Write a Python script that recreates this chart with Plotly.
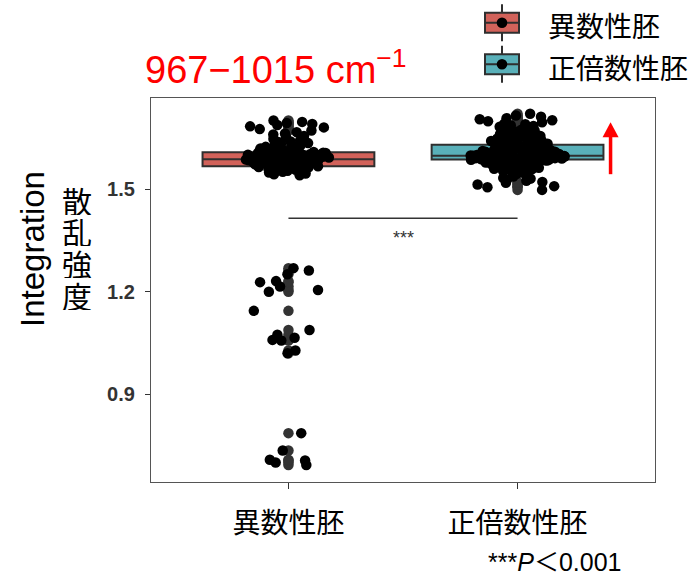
import plotly.graph_objects as go

# Canvas and plot-area geometry (pixels)
W, H = 695, 583
L, R, T, B = 151, 40, 98, 101
PW, PH = W - L - R, H - T - B


def px(x):
    return (x - L) / PW


def py(y):
    return (H - B - y) / PH


LATIN = "Liberation Sans, Arial, sans-serif"
CJK = "Noto Sans CJK JP, Noto Sans CJK SC, sans-serif"

categories = ["異数性胚", "正倍数性胚"]
positions = [1, 2]
box_fill = ["#D2625A", "#59B0B9"]
box_line = "#2F2F2F"

# Integrated scattering intensity per embryo
aneuploid = [
    # main cluster
    1.541, 1.544, 1.546, 1.549, 1.551, 1.553, 1.554, 1.557, 1.558, 1.560,
    1.561, 1.563, 1.564, 1.565, 1.566, 1.567, 1.568, 1.568, 1.570, 1.570,
    1.571, 1.572, 1.573, 1.573, 1.574, 1.575, 1.576, 1.577, 1.577, 1.578,
    1.579, 1.580, 1.580, 1.581, 1.582, 1.582, 1.583, 1.584, 1.584, 1.585,
    1.585, 1.586, 1.586, 1.587, 1.587, 1.588, 1.588, 1.589, 1.590, 1.590,
    1.591, 1.592, 1.592, 1.593, 1.594, 1.594, 1.595, 1.596, 1.596, 1.597,
    1.598, 1.598, 1.599, 1.600, 1.600, 1.601, 1.602, 1.602, 1.603, 1.604,
    1.604, 1.605, 1.606, 1.606, 1.607, 1.608, 1.609, 1.610, 1.611, 1.613,
    1.614, 1.615, 1.617, 1.618, 1.619, 1.621, 1.622, 1.624, 1.625, 1.627,
    1.629, 1.631, 1.633, 1.635, 1.638, 1.640, 1.643, 1.647, 1.652, 1.656,
    1.660, 1.663, 1.667, 1.672, 1.676, 1.681, 1.684, 1.688, 1.691, 1.694,
    1.697, 1.701,
    # low-intensity embryos
    1.269, 1.262, 1.251, 1.231, 1.228, 1.215, 1.205, 1.200, 1.144, 1.088,
    1.074, 1.065, 1.059, 1.057, 1.028, 1.020, 0.786, 0.735, 0.708, 0.706,
    0.700, 0.693,
]

euploid = [
    1.498, 1.506, 1.509, 1.514, 1.519, 1.521, 1.525, 1.528, 1.531, 1.533,
    1.537, 1.541, 1.545, 1.548, 1.551, 1.553, 1.554, 1.557, 1.558, 1.560,
    1.561, 1.563, 1.564, 1.566, 1.567, 1.568, 1.570, 1.570, 1.572, 1.572,
    1.573, 1.575, 1.575, 1.576, 1.577, 1.578, 1.578, 1.579, 1.580, 1.581,
    1.581, 1.582, 1.583, 1.583, 1.584, 1.584, 1.585, 1.585, 1.586, 1.586,
    1.587, 1.587, 1.588, 1.588, 1.588, 1.589, 1.589, 1.590, 1.590, 1.590,
    1.591, 1.591, 1.591, 1.592, 1.592, 1.592, 1.593, 1.593, 1.593, 1.593,
    1.594, 1.594, 1.594, 1.595, 1.595, 1.595, 1.595, 1.596, 1.596, 1.596,
    1.597, 1.597, 1.597, 1.597, 1.598, 1.598, 1.598, 1.598, 1.599, 1.599,
    1.599, 1.600, 1.600, 1.600, 1.601, 1.601, 1.602, 1.602, 1.603, 1.603,
    1.604, 1.604, 1.605, 1.605, 1.606, 1.607, 1.607, 1.608, 1.608, 1.609,
    1.610, 1.610, 1.611, 1.612, 1.612, 1.613, 1.614, 1.614, 1.615, 1.616,
    1.617, 1.617, 1.618, 1.619, 1.620, 1.620, 1.621, 1.622, 1.623, 1.623,
    1.624, 1.625, 1.626, 1.626, 1.627, 1.628, 1.629, 1.629, 1.630, 1.631,
    1.632, 1.633, 1.634, 1.635, 1.636, 1.637, 1.638, 1.640, 1.641, 1.642,
    1.643, 1.644, 1.646, 1.647, 1.648, 1.650, 1.651, 1.653, 1.654, 1.656,
    1.657, 1.659, 1.661, 1.662, 1.664, 1.666, 1.668, 1.670, 1.672, 1.674,
    1.676, 1.678, 1.681, 1.683, 1.685, 1.687, 1.690, 1.692, 1.696, 1.699,
    1.702, 1.705, 1.708, 1.712, 1.716, 1.721,
]

# Box statistics
q1 = [1.567, 1.587]
median = [1.588, 1.598]
q3 = [1.608, 1.630]
lower_whisker = [1.541, 1.525]
upper_whisker = [1.667, 1.692]

# Significance bracket
sig_y = 1.415
sig_label = "***"
p_note = "***<i>P</i>＜0.001"
title_text = "967−1015 cm<sup>−1</sup>"

# Red "increase" arrow beside the euploid box (data units)
arrow_x = 2.406
arrow_tail, arrow_tip = 1.544, 1.696

groups = [aneuploid, euploid]
BOX_W = 0.75
JITTER = 0.55

fig = go.Figure()

# boxes
for i in range(2):
    fig.add_trace(go.Box(
        x=[positions[i]], q1=[q1[i]], median=[median[i]], q3=[q3[i]],
        lowerfence=[lower_whisker[i]], upperfence=[upper_whisker[i]],
        width=BOX_W, fillcolor=box_fill[i],
        line=dict(color=box_line, width=2), whiskerwidth=0,
        boxpoints=False, showlegend=False, hoverinfo="skip",
    ))

# outliers at the box centre
for i in range(2):
    vals = groups[i]
    out = [v for v in vals if v < lower_whisker[i] or v > upper_whisker[i]]
    fig.add_trace(go.Box(
        x=[positions[i]] * len(out), y=out, boxpoints="all", jitter=0,
        pointpos=0, width=BOX_W, fillcolor="rgba(0,0,0,0)",
        line=dict(color="rgba(0,0,0,0)", width=0), whiskerwidth=0,
        marker=dict(color="#333333", size=10.5), showlegend=False,
        hoverinfo="skip",
    ))

# jittered observations
for i in range(2):
    vals = groups[i]
    parts = [
        [v for v in vals if v < lower_whisker[i]],
        [v for v in vals if lower_whisker[i] <= v <= upper_whisker[i]],
        [v for v in vals if v > upper_whisker[i]],
    ]
    for part in parts:
        if not part:
            continue
        fig.add_trace(go.Box(
            x=[positions[i]] * len(part), y=part, boxpoints="all",
            jitter=JITTER, pointpos=0, width=BOX_W,
            fillcolor="rgba(0,0,0,0)",
            line=dict(color="rgba(0,0,0,0)", width=0), whiskerwidth=0,
            marker=dict(color="black", size=10.5), showlegend=False,
            hoverinfo="skip",
        ))

# arrow head size in pixels, converted to data units
x_per_px = (2.6 - 0.4) / PW
y_per_px = (1.767 - 0.643) / PH
head_half_w = 8 * x_per_px
head_len = 15 * y_per_px

shapes = [
    dict(type="line", xref="x", yref="y", x0=positions[0], x1=positions[1],
         y0=sig_y, y1=sig_y, line=dict(color="#333333", width=1.5)),
    dict(type="line", xref="x", yref="y", x0=arrow_x, x1=arrow_x,
         y0=arrow_tail, y1=arrow_tip - head_len * 0.8,
         line=dict(color="#FF0000", width=3.5)),
    dict(type="path", xref="x", yref="y",
         path=(f"M{arrow_x - head_half_w},{arrow_tip - head_len} "
               f"L{arrow_x},{arrow_tip} L{arrow_x + head_half_w},{arrow_tip - head_len} Z"),
         fillcolor="#FF0000", line=dict(color="#FF0000", width=0)),
]

# legend keys
legend_y = [22.7, 64.3]
for i in range(2):
    c = legend_y[i]
    shapes.append(dict(type="line", xref="paper", yref="paper",
                       x0=px(502), x1=px(502), y0=py(c - 18.5), y1=py(c + 18.5),
                       line=dict(color=box_line, width=2)))
    shapes.append(dict(type="rect", xref="paper", yref="paper",
                       x0=px(485), x1=px(519), y0=py(c - 10), y1=py(c + 10),
                       fillcolor=box_fill[i], line=dict(color=box_line, width=2)))
    shapes.append(dict(type="line", xref="paper", yref="paper",
                       x0=px(485), x1=px(519), y0=py(c), y1=py(c),
                       line=dict(color=box_line, width=2)))
    shapes.append(dict(type="circle", xref="paper", yref="paper",
                       x0=px(502 - 5.3), x1=px(502 + 5.3),
                       y0=py(c - 5.3), y1=py(c + 5.3),
                       fillcolor="black", line=dict(color="black", width=0)))

annotations = [
    dict(text=title_text, xref="paper", yref="paper", x=px(143), y=py(67),
         xanchor="left", yanchor="middle", showarrow=False,
         font=dict(family=LATIN, size=38, color="#FF0000")),
    dict(text="Integration", xref="paper", yref="paper", x=px(32), y=py(249),
         textangle=-90, xanchor="center", yanchor="middle", showarrow=False,
         font=dict(family=LATIN, size=33, color="black")),
    dict(text=sig_label, xref="x", yref="y", x=1.5, y=1.357,
         showarrow=False, font=dict(family=LATIN, size=18, color="#333333")),
    dict(text=p_note, xref="paper", yref="paper", x=px(486), y=py(562),
         xanchor="left", yanchor="middle", showarrow=False,
         font=dict(family=LATIN + ", " + CJK, size=25, color="black")),
    dict(text=categories[0], xref="paper", yref="paper", x=px(546), y=py(25),
         xanchor="left", yanchor="middle", showarrow=False,
         font=dict(family=CJK, size=28, color="black")),
    dict(text=categories[1], xref="paper", yref="paper", x=px(546), y=py(67),
         xanchor="left", yanchor="middle", showarrow=False,
         font=dict(family=CJK, size=28, color="black")),
]
# vertical axis label, one character per line
for k, ch in enumerate("散乱強度"):
    annotations.append(dict(text=ch, xref="paper", yref="paper", x=px(77),
                            y=py(199 + 31.8 * k), xanchor="center",
                            yanchor="middle", showarrow=False, height=31,
                            font=dict(family=CJK, size=30, color="black")))

fig.update_layout(
    width=W, height=H,
    margin=dict(l=L, r=R, t=T, b=B, pad=0),
    paper_bgcolor="white", plot_bgcolor="white",
    boxmode="overlay",
    showlegend=False,
    shapes=shapes,
    annotations=annotations,
    xaxis=dict(
        type="linear", range=[0.4, 2.6], tickvals=positions, ticktext=categories,
        showgrid=False, zeroline=False, showline=True, mirror=True,
        linecolor="#555555", linewidth=1.3, ticks="outside", ticklen=6,
        tickcolor="#333333", tickwidth=1.3, ticklabelstandoff=10,
        tickfont=dict(family=CJK, size=28, color="black"),
    ),
    yaxis=dict(
        range=[0.643, 1.767], tickvals=[0.9, 1.2, 1.5],
        ticktext=["0.9", "1.2", "1.5"],
        showgrid=False, zeroline=False, showline=True, mirror=True,
        linecolor="#555555", linewidth=1.3, ticks="outside", ticklen=5,
        tickcolor="#333333", tickwidth=1.3, ticklabelstandoff=6,
        tickfont=dict(family=LATIN, size=20, color="#333333", weight="bold"),
    ),
)

fig.write_html("out.html")
